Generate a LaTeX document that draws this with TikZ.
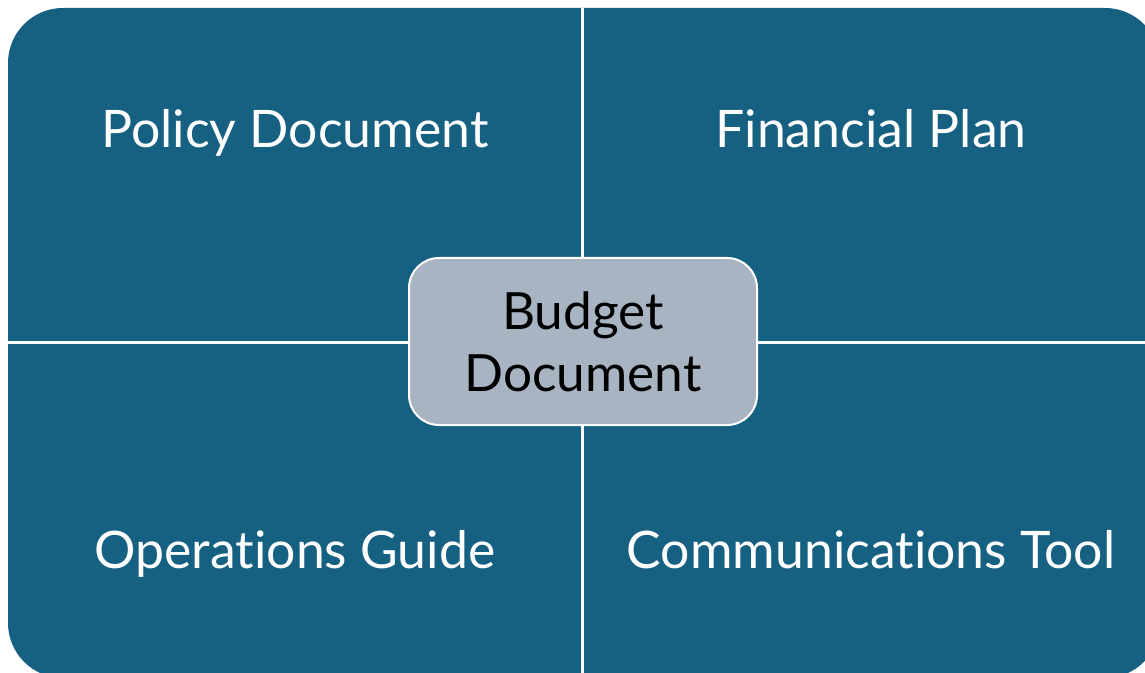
\documentclass[tikz,border=0pt]{standalone}
\usepackage{fontspec}
\setmainfont[Ligatures={NoCommon}]{Lato}
\definecolor{quadblue}{RGB}{22,96,130}
\definecolor{hubgray}{RGB}{168,180,193}
\tikzset{every picture/.style={line width=0.75pt}}
\tikzset{
  quadlabel/.style={text=white,anchor=base,font=\fontsize{38.8}{42}\selectfont},
  hubbox/.style={draw=white,line width=1.5pt,fill=hubgray,rounded corners=22.5pt,
    minimum width=261pt,minimum height=125.25pt,align=center,text=black,
    font=\fontsize{38.5}{46.5}\selectfont},
  divider/.style={draw=white,line width=2.25pt}
}
\begin{document}
\begin{tikzpicture}[x=0.75pt,y=0.75pt,yscale=-1,xscale=1]
	\useasboundingbox (0,0) rectangle (1145,673);
	\clip (0,0) rectangle (1145,673);

	%Shape: Rounded Rect
	\fill [quadblue,rounded corners=41.25pt] (8,8) rectangle (1160,678);

	%Straight Lines
	\coordinate (top) at (582.5,8);
	\coordinate (bottom) at (582.5,678);
	\coordinate (left) at (8,342.5);
	\coordinate (right) at (1160,342.5);
	\draw [divider] (top) -- (bottom);
	\draw [divider] (left) -- (right);

	% Text Node
	\node [hubbox] (budget) at (583,341.5) {Budget\\Document};

	% Text Node
	\node [quadlabel] (policy) at (295,148) {Policy Document};
	% Text Node
	\node [quadlabel] (financial) at (871,148) {Financial Plan};
	% Text Node
	\node [quadlabel] (operations) at (295,568) {Operations Guide};
	% Text Node
	\node [quadlabel] (communications) at (871,568) {Communications Tool};

\end{tikzpicture}
\end{document}
